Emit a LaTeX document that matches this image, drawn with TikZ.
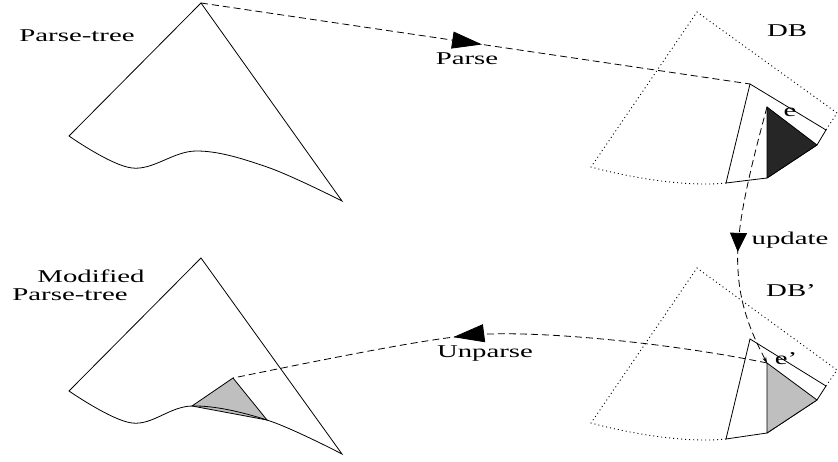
\documentclass[tikz,border=0pt]{standalone}
\usepackage{fontspec}
\setmainfont{Liberation Serif}
\usetikzlibrary{arrows.meta,decorations.markings}
\newcommand{\stretched}[1]{\scalebox{1.6}[1]{#1}}
\tikzset{
  lbl/.style={anchor=base, inner sep=0pt, font=\fontsize{18}{20}\selectfont},
  outline/.style={line width=0.8pt, line join=miter},
  fanline/.style={line width=0.9pt, dash pattern=on 1pt off 3pt},
  flowline/.style={line width=0.8pt, dash pattern=on 7pt off 4pt},
  midtip/.style n args={3}{postaction={decorate},
    decoration={markings, mark=at position #1 with {\arrow{Triangle[length=#2,width=#3]}}}}
}
\begin{document}
\begin{tikzpicture}[x=1pt, y=-1pt]
    \useasboundingbox (0,0) rectangle (838,462);

    % parse trees
    \begin{scope}[shift={(0,0)}]
        \coordinate (Apex1) at (201,3);
        \coordinate (Left1) at (69,136);
        \coordinate (Max1) at (196,151);
        \coordinate (Knee1) at (267,167);
        \coordinate (Right1) at (342,201);
        \draw[outline] plot[smooth, tension=0.6] coordinates {(Left1) (132,168) (Max1) (Knee1) (Right1)} -- (Apex1) -- cycle;
    \end{scope}

    \begin{scope}[shift={(0,255)}]
        \coordinate (Apex2) at (201,3);
        \coordinate (Left2) at (69,136);
        \coordinate (Max2) at (192,151);
        \coordinate (Knee2) at (267,165);
        \coordinate (Right2) at (342,199);
        \coordinate (Sub2) at (233,123);
        \filldraw[outline, fill=gray!50] (Max2) -- (Sub2) -- (Knee2) -- cycle;
        \draw[outline] plot[smooth, tension=0.6] coordinates {(Left2) (132,168) (Max2) (Knee2) (Right2)} -- (Apex2) -- cycle;
    \end{scope}

    % databases
    \begin{scope}[shift={(0,0)}]
        \coordinate (Top1) at (697,12);
        \coordinate (Edge1) at (837,113);
        \coordinate (Corner1) at (591,167);
        \coordinate (BoxTL1) at (750,84);
        \coordinate (BoxTR1) at (826,130);
        \coordinate (BoxBL1) at (726,183);
        \coordinate (ElemT1) at (767,107);
        \coordinate (ElemR1) at (817,145);
        \coordinate (ElemB1) at (767,178);
        \draw[fanline] (BoxBL1) .. controls (690,187) and (635,179) .. (Corner1) -- (Top1) -- (Edge1) -- (BoxTR1);
        \filldraw[outline, fill=white] (BoxTL1) -- (BoxTR1) -- (ElemR1) -- (ElemB1) -- (BoxBL1) -- cycle;
        \filldraw[outline, fill=black!85] (ElemT1) -- (ElemR1) -- (ElemB1) -- cycle;
    \end{scope}

    \begin{scope}[shift={(0,256)}]
        \coordinate (Top2) at (697,12);
        \coordinate (Edge2) at (837,114);
        \coordinate (Corner2) at (591,167);
        \coordinate (BoxTL2) at (750,83);
        \coordinate (BoxTR2) at (826,130);
        \coordinate (BoxBL2) at (726,183);
        \coordinate (ElemT2) at (767,107);
        \coordinate (ElemR2) at (817,144);
        \coordinate (ElemB2) at (767,177);
        \draw[fanline] (BoxBL2) .. controls (690,187) and (635,179) .. (Corner2) -- (Top2) -- (Edge2) -- (BoxTR2);
        \filldraw[outline, fill=white] (BoxTL2) -- (BoxTR2) -- (ElemR2) -- (ElemB2) -- (BoxBL2) -- cycle;
        \filldraw[outline, fill=gray!50] (ElemT2) -- (ElemR2) -- (ElemB2) -- cycle;
    \end{scope}

    % flows
    \draw[flowline, midtip={0.512}{30pt}{17pt}] (Apex1) -- (BoxTL1);
    \draw[flowline, midtip={0.56}{19pt}{17pt}, -{Stealth[length=6pt,width=4pt]}] (ElemT1)
        .. controls (750,170) and (735,230) .. (738,270)
        .. controls (740,310) and (755,340) .. (ElemT2);
    \draw[flowline, midtip={0.585}{31pt}{18pt}] (ElemT2)
        .. controls (680,345) and (560,332) .. (490,334)
        .. controls (450,335) and (380,348) .. (Sub2);

    % labels
    \node[lbl] (TreeLbl) at (77,42) {\stretched{Parse-tree}};
    \node[lbl] (ModLbl) at (91,283) {\stretched{Modified}};
    \node[lbl] (ModTreeLbl) at (70,301) {\stretched{Parse-tree}};
    \node[lbl] (ParseLbl) at (467,65) {\stretched{Parse}};
    \node[lbl] (UnparseLbl) at (485,357) {\stretched{Unparse}};
    \node[lbl] (UpdateLbl) at (790,245) {\stretched{update}};
    \node[lbl] (DBLbl) at (787,37) {\stretched{DB}};
    \node[lbl] (NewDBLbl) at (791,297) {\stretched{DB'}};
    \node[lbl] (ElemLbl) at (790,117) {\stretched{e}};
    \node[lbl] (NewElemLbl) at (786,364) {\stretched{e'}};
\end{tikzpicture}
\end{document}
